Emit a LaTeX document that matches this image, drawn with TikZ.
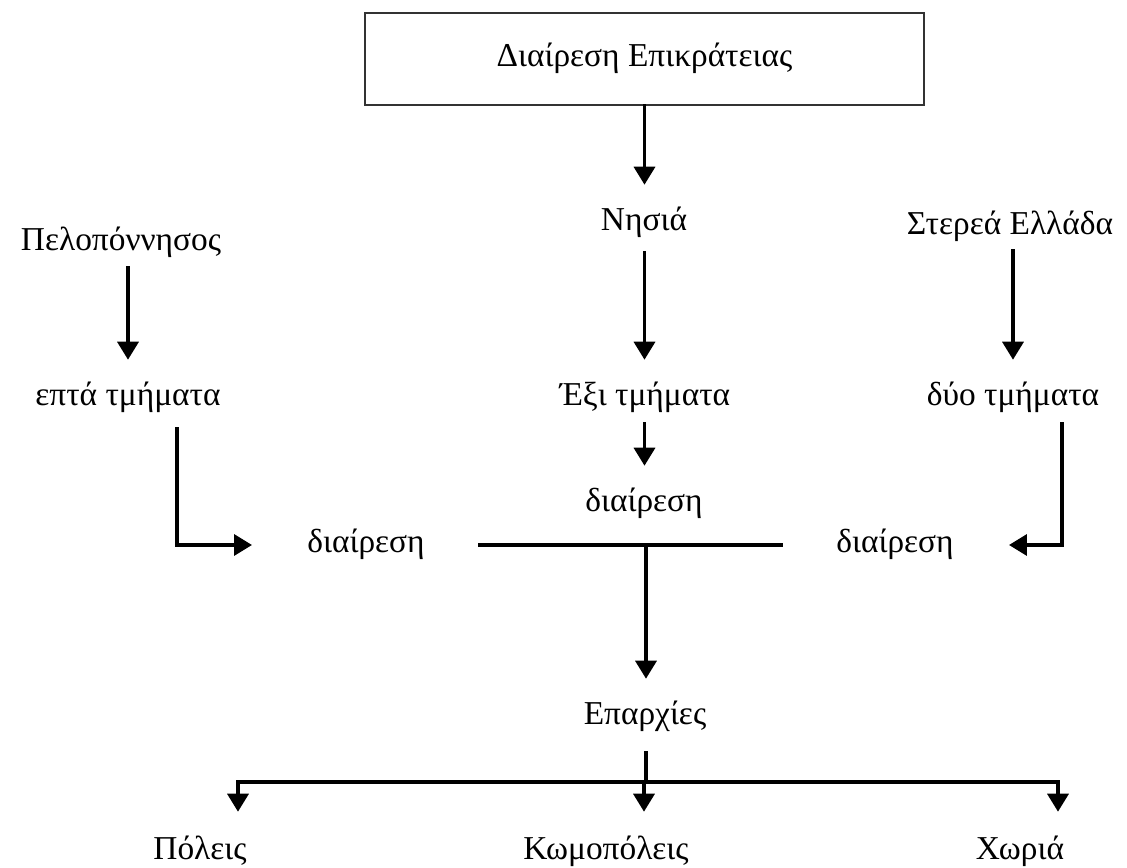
\documentclass[tikz,border=0pt]{standalone}
\usepackage{fontspec}
\setmainfont{Liberation Serif}
\usepackage{tikz}
\usetikzlibrary{arrows.meta,calc}
\tikzset{
  lbl/.style={font=\fontsize{19}{22}\selectfont,inner sep=0pt,text height=13pt,text depth=4pt},
  topbox/.style={lbl,draw=black!80,line width=1.1pt,minimum width=11.18cm,minimum height=1.84cm},
  every edge/.style={draw,line width=2pt,-{Triangle[length=0.36cm,width=0.42cm]},shorten >=0.46cm,shorten <=0.28cm},
  plain/.style={draw,line width=2pt},
}
\begin{document}
\begin{tikzpicture}[x=0.02cm,y=-0.02cm,line cap=rect]
\useasboundingbox (0,0) rectangle (1127,868);

\node[topbox] (epik) at (644.5,59) {Διαίρεση Επικράτειας};
\node[lbl] (pel) at (121,243) {Πελοπόννησος};
\node[lbl] (nis) at (644,223) {Νησιά};
\node[lbl] (ster) at (1010,227) {Στερεά Ελλάδα};
\node[lbl] (epta) at (128,398) {επτά τμήματα};
\node[lbl] (exi) at (645,398) {Έξι τμήματα};
\node[lbl] (dyo) at (1013,398) {δύο τμήματα};
\node[lbl] (mdiv) at (644,504) {διαίρεση};
\node[lbl] (ldiv) at (366,545) {διαίρεση};
\node[lbl] (rdiv) at (895,545) {διαίρεση};
\node[lbl] (epar) at (645,717) {Επαρχίες};
\node[lbl] (pol) at (200,852) {Πόλεις};
\node[lbl] (kom) at (606,852) {Κωμοπόλεις};
\node[lbl] (xor) at (1020,852) {Χωριά};
\coordinate (hub) at (646,782);

\path
(epik) edge[shorten <=0pt] (epik |- nis.north)
(epik |- nis.south) edge (epik |- exi.north)
(ster.south -| dyo) edge[shorten <=0.16cm] (dyo.north)
(pel.south -| epta) edge[shorten <=0.18cm] (epta.north)
(exi.south -| epik) edge[shorten <=0.2cm] (mdiv.north -| epik);

\path
([xshift=0.98cm]epta.south) edge[to path={|- (\tikztotarget)},shorten <=0.3cm,shorten >=1.1cm] (ldiv.west)
([xshift=0.98cm]dyo.south) edge[to path={|- (\tikztotarget)},shorten <=0.2cm,shorten >=1.1cm] (rdiv.east);

\draw[plain,shorten <=1.1cm,shorten >=1.1cm] (ldiv.east) -- (rdiv.west);
\path (hub |- ldiv) edge[shorten <=0pt] (hub |- epar.north);

\draw[plain,shorten <=0.4cm] (hub |- epar.south) -- (hub);
\draw[plain] ([xshift=0.76cm]pol.north |- hub) -- ([xshift=0.76cm]xor.north |- hub);
\foreach \n in {pol,kom,xor}
  \path ([xshift=0.76cm]\n.north |- hub) edge[shorten <=0pt,shorten >=0.5cm] ([xshift=0.76cm]\n.north);

\end{tikzpicture}
\end{document}
